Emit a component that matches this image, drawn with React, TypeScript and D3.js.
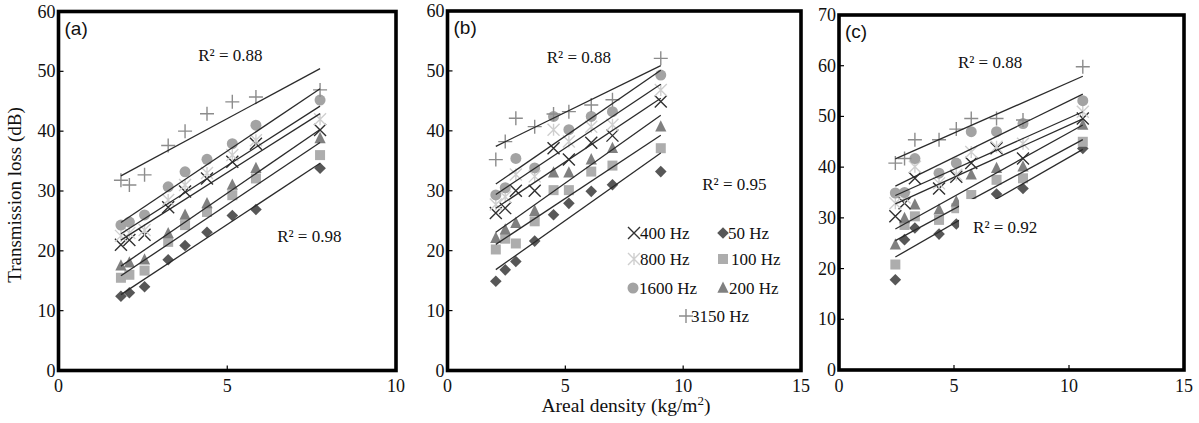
import React from "react";
import * as d3 from "d3";

// ---------- data ----------
const freqLabels = ["50 Hz", "100 Hz", "200 Hz", "400 Hz", "800 Hz", "1600 Hz", "3150 Hz"];

// Panel (a)
const aDensity = [1.85, 2.1, 2.55, 3.25, 3.75, 4.4, 5.15, 5.85, 7.75];
const a50Hz = [12.4, 13.0, 14.0, 18.5, 20.9, 23.1, 25.9, 26.9, 33.8];
const a100Hz = [15.5, 16.0, 16.7, 21.5, 24.3, 26.5, 29.3, 32.1, 36.0];
const a200Hz = [17.5, 18.0, 18.5, 22.9, 26.0, 27.9, 31.0, 33.8, 38.8];
const a400Hz = [21.0, 21.8, 22.7, 27.3, 29.9, 32.1, 34.9, 37.9, 40.2];
const a800Hz = [22.5, 23.0, 23.5, 28.5, 31.0, 33.0, 36.0, 38.5, 42.0];
const a1600Hz = [24.3, 24.8, 26.0, 30.7, 33.2, 35.3, 37.9, 41.0, 45.2];
const a3150Hz = [31.8, 31.0, 32.7, 37.6, 40.0, 42.9, 44.9, 45.7, 46.9];

// Panel (b)
const bDensity = [2.05, 2.45, 2.9, 3.7, 4.5, 5.15, 6.1, 7.0, 9.05];
const b50Hz = [14.9, 16.8, 18.2, 21.6, 26.0, 27.9, 29.9, 31.0, 33.2];
const b100Hz = [20.2, 22.0, 21.2, 24.9, 30.1, 30.1, 33.2, 34.2, 37.1];
const b200Hz = [22.1, 23.5, 24.6, 26.6, 33.0, 33.0, 35.2, 37.1, 40.7];
const b400Hz = [26.3, 27.1, 30.0, 30.0, 37.1, 35.2, 38.0, 39.2, 44.9];
const b800Hz = [27.7, 29.0, 32.7, 32.4, 40.2, 38.2, 40.7, 41.0, 46.8];
const b1600Hz = [29.3, 30.5, 35.4, 33.8, 42.4, 40.2, 42.4, 43.2, 49.3];
const b3150Hz = [35.2, 38.2, 42.1, 40.7, 42.8, 43.2, 44.3, 45.2, 52.1];

// Panel (c)
const cDensity = [2.45, 2.85, 3.3, 4.35, 5.1, 5.75, 6.85, 8.0, 10.6];
const c50Hz = [17.8, 25.7, 28.0, 26.8, 28.8, 30.0, 34.7, 35.8, 43.7];
const c100Hz = [20.8, 28.6, 30.3, 29.6, 31.9, 34.5, 37.5, 37.8, 45.0];
const c200Hz = [24.7, 29.9, 32.6, 31.6, 33.2, 38.5, 39.8, 40.1, 48.3];
const c400Hz = [30.3, 32.9, 37.8, 35.8, 38.1, 40.8, 43.7, 41.7, 49.6];
const c800Hz = [32.9, 34.0, 40.1, 36.8, 38.5, 43.0, 44.0, 44.6, 50.9];
const c1600Hz = [34.9, 35.0, 41.7, 38.8, 40.8, 47.0, 47.0, 48.6, 53.1];
const c3150Hz = [40.8, 41.7, 45.4, 45.4, 47.5, 49.6, 49.6, 49.3, 59.8];

const xTicks10 = [0, 5, 10];
const xTicks15 = [0, 5, 10, 15];
const yTicks60 = [0, 10, 20, 30, 40, 50, 60];
const yTicks70 = [0, 10, 20, 30, 40, 50, 60, 70];

const r2A = [{ t: "0.88", x: 4.14, y: 51.8 }, { t: "0.98", x: 6.48, y: 21.5 }];
const r2B = [{ t: "0.88", x: 4.21, y: 51.25 }, { t: "0.95", x: 10.81, y: 30.1 }];
const r2C = [{ t: "0.88", x: 5.17, y: 59.6 }, { t: "0.92", x: 5.83, y: 27.0, box: true }];

// ---------- styles ----------
const SERIF = "'Liberation Serif', 'Times New Roman', serif";
const SANS = "'Liberation Sans', Arial, sans-serif";
const markerStyle = [
  { shape: "diamond", color: "#575757" },
  { shape: "square", color: "#adadad" },
  { shape: "triangle", color: "#808080" },
  { shape: "x", color: "#303030" },
  { shape: "asterisk", color: "#cfcfcf" },
  { shape: "circle", color: "#a3a3a3" },
  { shape: "plus", color: "#8c8c8c" },
];

const panels = [
  {
    label: "(a)", x: aDensity, ys: [a50Hz, a100Hz, a200Hz, a400Hz, a800Hz, a1600Hz, a3150Hz],
    xMax: 10, yMax: 60, xTicks: xTicks10, yTicks: yTicks60,
    left: 58.5, right: 396, top: 11.5, bottom: 370.5, r2: r2A,
  },
  {
    label: "(b)", x: bDensity, ys: [b50Hz, b100Hz, b200Hz, b400Hz, b800Hz, b1600Hz, b3150Hz],
    xMax: 15, yMax: 60, xTicks: xTicks15, yTicks: yTicks60,
    left: 447.5, right: 801, top: 11, bottom: 370.5, r2: r2B,
  },
  {
    label: "(c)", x: cDensity, ys: [c50Hz, c100Hz, c200Hz, c400Hz, c800Hz, c1600Hz, c3150Hz],
    xMax: 15, yMax: 70, xTicks: xTicks15, yTicks: yTicks70,
    left: 839, right: 1184, top: 15, bottom: 370, r2: r2C,
  },
];

function Marker({ shape, color, cx, cy }: { shape: string; color: string; cx: number; cy: number }) {
  const t = `translate(${cx},${cy})`;
  const r = 6;
  switch (shape) {
    case "diamond":
      return <path transform={t} d="M0,-5.8L5.8,0L0,5.8L-5.8,0Z" fill={color} />;
    case "square":
      return <rect x={cx - 5} y={cy - 5} width={10} height={10} fill={color} />;
    case "triangle":
      return <path transform={t} d="M0,-6.5L5.6,4.8L-5.6,4.8Z" fill={color} />;
    case "circle":
      return <circle cx={cx} cy={cy} r={5.5} fill={color} />;
    case "x":
      return <path transform={t} d={`M${-r},${-r}L${r},${r}M${-r},${r}L${r},${-r}`} stroke={color} strokeWidth={1.4} fill="none" />;
    case "asterisk":
      return <path transform={t} d={`M${-r},${-r}L${r},${r}M${-r},${r}L${r},${-r}M0,${-r}L0,${r}`} stroke={color} strokeWidth={1.4} fill="none" />;
    case "plus":
    default:
      return <path transform={t} d={`M${-r - 1},0L${r + 1},0M0,${-r - 1}L0,${r + 1}`} stroke={color} strokeWidth={1.4} fill="none" />;
  }
}

function fitLine(xs: number[], ys: number[]) {
  const mx = d3.mean(xs)!;
  const my = d3.mean(ys)!;
  let sxy = 0, sxx = 0;
  xs.forEach((x, i) => { sxy += (x - mx) * (ys[i] - my); sxx += (x - mx) * (x - mx); });
  const slope = sxy / sxx;
  const x0 = d3.min(xs)!, x1 = d3.max(xs)!;
  return [[x0, my + slope * (x0 - mx)], [x1, my + slope * (x1 - mx)]];
}

function Panel({ p }: { p: any }) {
  const xs = d3.scaleLinear().domain([0, p.xMax]).range([p.left, p.right]);
  const ys = d3.scaleLinear().domain([0, p.yMax]).range([p.bottom, p.top]);
  const line = d3.line<number[]>().x((d) => xs(d[0])).y((d) => ys(d[1]));
  return (
    <g>
      {/* markers */}
      {p.ys.map((series: number[], si: number) =>
        series.map((v, i) => (
          <Marker key={`${si}-${i}`} shape={markerStyle[si].shape} color={markerStyle[si].color} cx={xs(p.x[i])} cy={ys(v)} />
        ))
      )}
      {/* fit lines */}
      {p.ys.map((series: number[], si: number) => (
        <path key={`l${si}`} d={line(fitLine(p.x, series))!} stroke="#2b2b2b" strokeWidth={1.3} fill="none" />
      ))}
      {/* R2 labels */}
      {p.r2.map((r: any, i: number) => (
        <g key={`r${i}`}>
          {r.box && <rect x={xs(r.x) - 14} y={ys(r.y) - 34} width={90} height={40} fill="#fff" />}
          <text x={xs(r.x)} y={ys(r.y)} fontFamily={SERIF} fontSize={17} fill="#111">
            R² = {r.t}
          </text>
        </g>
      ))}
      {/* ticks */}
      {p.yTicks.map((t: number) => (
        <g key={`y${t}`}>
          <line x1={p.left} x2={p.left + 5} y1={ys(t)} y2={ys(t)} stroke="#000" strokeWidth={1.2} />
          <text x={p.left - 3} y={ys(t) + 6} textAnchor="end" fontFamily={SERIF} fontSize={18} fill="#111">{t}</text>
        </g>
      ))}
      {p.xTicks.map((t: number) => (
        <g key={`x${t}`}>
          <line x1={xs(t)} x2={xs(t)} y1={p.bottom} y2={p.bottom - 5} stroke="#000" strokeWidth={1.2} />
          <text x={xs(t)} y={392} textAnchor="middle" fontFamily={SERIF} fontSize={18} fill="#111">{t}</text>
        </g>
      ))}
      <rect x={p.left} y={p.top} width={p.right - p.left} height={p.bottom - p.top} fill="none" stroke="#000" strokeWidth={3.6} />
      <text x={p.left + 6} y={p.top + 23} fontFamily={SANS} fontSize={19} fill="#111">{p.label}</text>
    </g>
  );
}

const legendItems = [
  { si: 3, mx: 634, tx: 640, y: 239 },
  { si: 0, mx: 723, tx: 728, y: 239 },
  { si: 4, mx: 634, tx: 640, y: 265 },
  { si: 1, mx: 723, tx: 731, y: 265 },
  { si: 5, mx: 633, tx: 639, y: 294 },
  { si: 2, mx: 723, tx: 729, y: 294 },
  { si: 6, mx: 686, tx: 691, y: 322 },
];

export default function App() {
  return (
    <svg width={1199} height={423} style={{ position: "absolute", left: 0, top: 0, background: "#fff" }}>
      <rect width={1199} height={423} fill="#fff" />
      {panels.map((p) => <Panel key={p.label} p={p} />)}
      {legendItems.map((l) => (
        <g key={l.si}>
          <Marker shape={markerStyle[l.si].shape} color={markerStyle[l.si].color} cx={l.mx} cy={l.y - 6} />
          <text x={l.tx} y={l.y} fontFamily={SERIF} fontSize={17} fill="#111">{freqLabels[l.si]}</text>
        </g>
      ))}
      <text transform="translate(21,195) rotate(-90)" textAnchor="middle" fontFamily={SERIF} fontSize={19} fill="#111">
        Transmission loss (dB)
      </text>
      <text x={626} y={412} textAnchor="middle" fontFamily={SERIF} fontSize={19.5} fill="#111">
        Areal density (kg/m<tspan fontSize={13} dy={-7}>2</tspan><tspan dy={7}>)</tspan>
      </text>
    </svg>
  );
}
